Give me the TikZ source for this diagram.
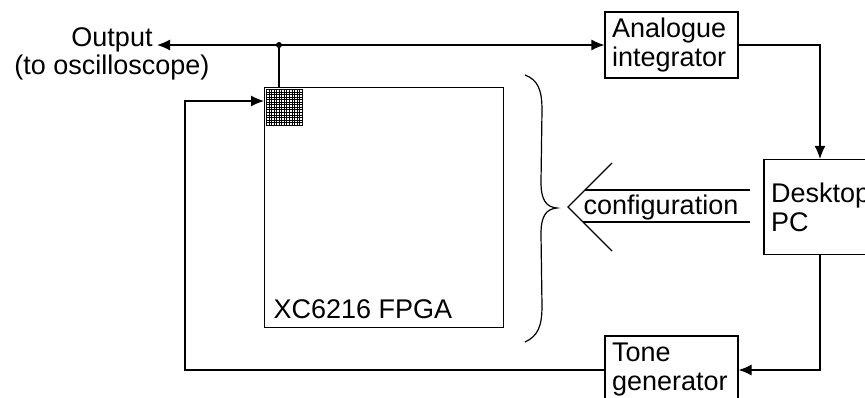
\documentclass[tikz,border=0pt]{standalone}
\usepackage{fontspec}
\setmainfont{Liberation Sans}
\usetikzlibrary{arrows.meta}

\tikzset{
	lbl/.style={font=\fontsize{27}{28}\selectfont, inner sep=0pt},
	blk/.style={draw, font=\fontsize{27}{29}\selectfont, align=left,
		inner xsep=7pt, inner ysep=0pt, text width=#1},
	tip/.style={-{Latex[length=13pt,width=11pt]}}
}

\begin{document}
\begin{tikzpicture}[x=1pt, y=-1pt, line width=1.2pt]
	\useasboundingbox (0,0) rectangle (865,397);
	\clip (0,0) rectangle (865,397);

	\coordinate (j) at (279,45);
	\coordinate (outtip) at (157,45);
	\coordinate (loop) at (185,101);
	\coordinate (fin) at (264,101);
	\coordinate (cfgtip) at (568,207);

	\node [draw, anchor=north west, minimum width=239pt, minimum height=240pt,
		inner sep=0pt] (fpga) at (264,87) {};
	\node [lbl, anchor=base west] (fpgalbl) at ([shift={(9,-10)}]fpga.south west)
		{XC6216 FPGA};

	\node [blk=119pt, minimum height=66pt] (integ) at (671.5,45)
		{Analogue\\integrator};
	\node [blk=98pt, minimum height=95pt, inner xsep=7pt] (pc) at (820,207)
		{Desktop\\PC};
	\node [blk=119pt, minimum height=68pt] (tone) at (671.5,370)
		{Tone\\generator};

	\node [lbl, align=center] (out) at (112,54) {Output\\(to oscilloscope)};
	\node [lbl, anchor=base] (cfg) at (661,214) {configuration};

	% routing cell
	\foreach \i in {0,...,14} {
		\draw [line width=0.9pt] (266.5+\i*2.55,89) -- ++(0,37);
		\draw [line width=0.9pt] (266,89.5+\i*2.55) -- ++(37,0);
	}

	\fill (j) circle (3);
	\draw [tip] (j) -- (outtip);
	\draw [tip] (j) -- (integ.west);
	\draw (j) -- (j |- fpga.north);

	\draw [tip] (integ.east) -| (pc.north);
	\draw [tip] (pc.south) |- (tone.east);
	\draw [tip] (tone.west) -- (tone.west -| loop) -- (loop) -- (fin);

	% configuration arrow
	\draw (750,190) -- (585,190);
	\draw (750,222) -- (583,222);
	\draw (612,163) -- (cfgtip) -- (612,251);

	\draw (525,75) .. controls (538,80) and (542,90) .. (542,110)
		-- (541,182) .. controls (541,200) and (546,207) .. (557,208)
		.. controls (546,209) and (541,216) .. (541,234)
		-- (542,306) .. controls (542,326) and (538,336) .. (525,342);
\end{tikzpicture}
\end{document}
